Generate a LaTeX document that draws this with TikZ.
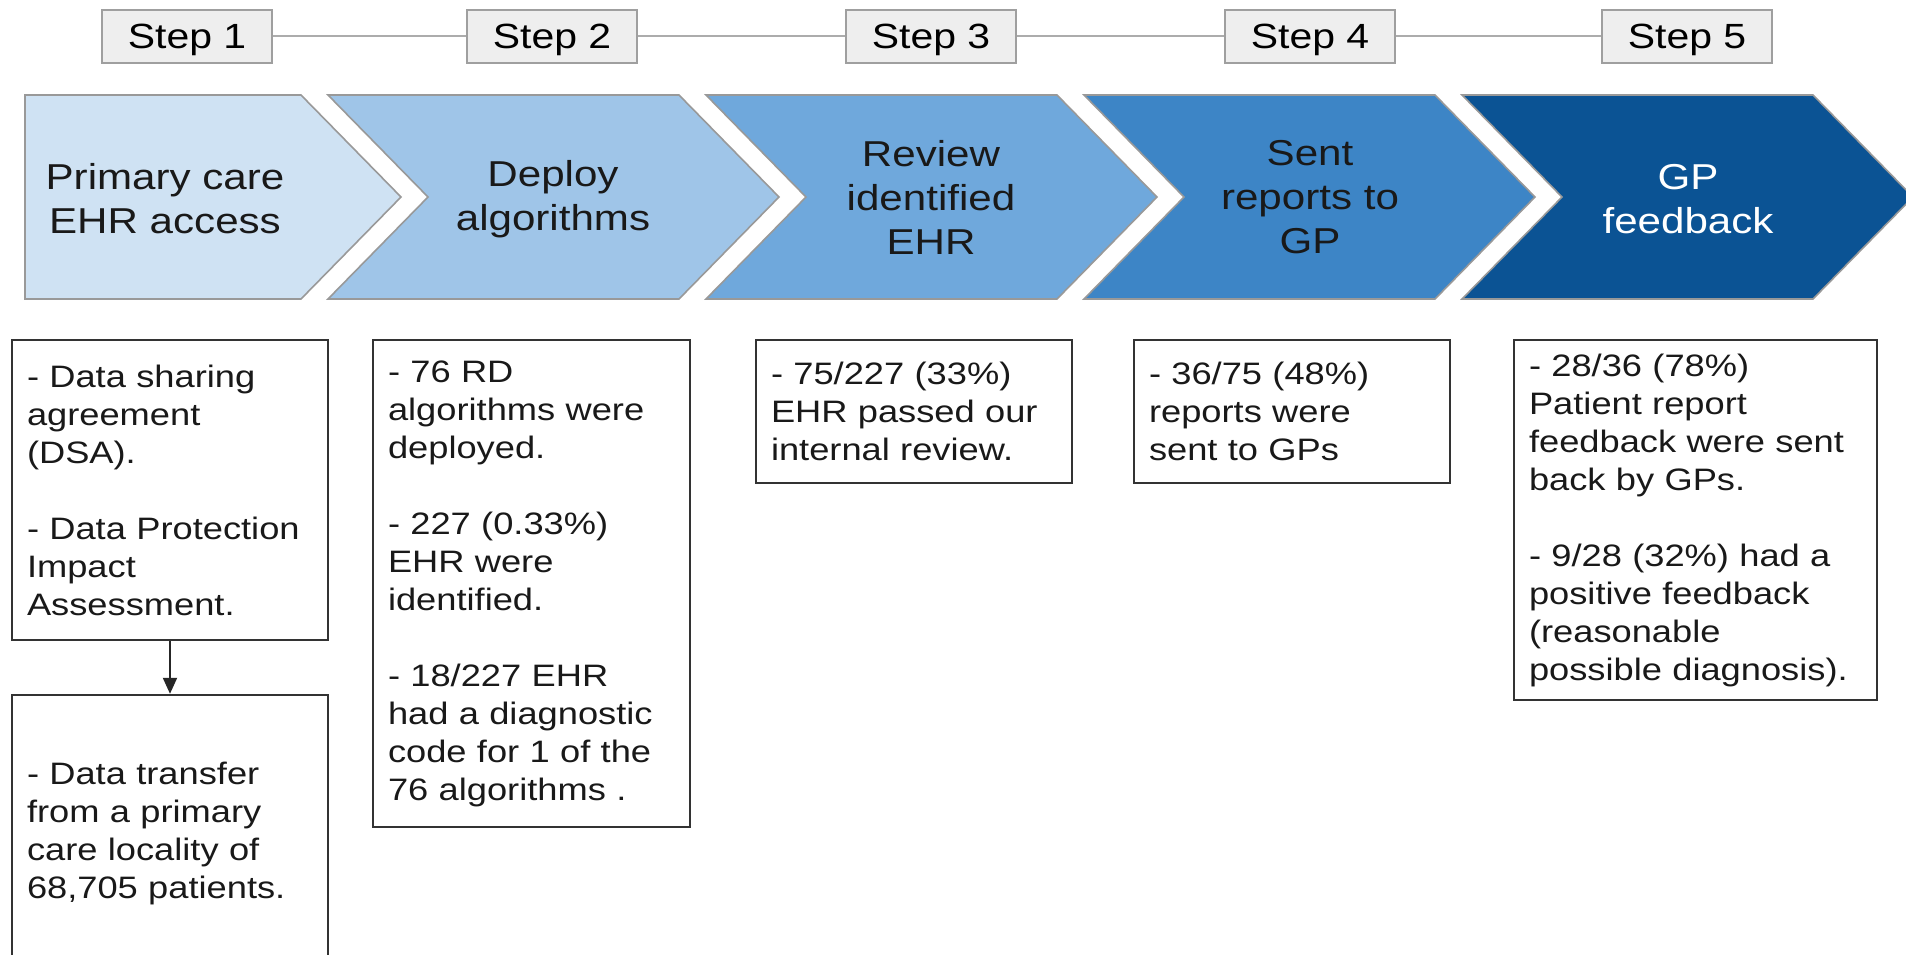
\documentclass[tikz,border=0pt]{standalone}
\usepackage{fontspec}
\setmainfont{Liberation Sans}[FakeStretch=1.17]
\usepackage{xcolor}
\usetikzlibrary{arrows.meta}

\definecolor{chevA}{HTML}{CFE2F3}
\definecolor{chevB}{HTML}{9FC5E8}
\definecolor{chevC}{HTML}{6FA8DC}
\definecolor{chevD}{HTML}{3D85C6}
\definecolor{chevE}{HTML}{0B5394}

\begin{document}
\begin{tikzpicture}[
  x=0.5pt, y=-0.5pt,
  steplabel/.style={draw=gray!75, fill=gray!13, line width=1pt, minimum width=85pt,
                    minimum height=26.5pt, inner sep=0pt, text depth=0pt,
                    font=\fontsize{17.5}{21}\selectfont},
  stepline/.style={draw=gray!65, line width=1pt},
  chev/.style={fill=#1, draw=gray!80, line width=0.8pt},
  chevtext/.style={align=center, text=black!90, font=\fontsize{18}{22}\selectfont},
  infobox/.style={draw=black!80, line width=1.2pt, fill=white, text width=#1,
                  inner xsep=7.5pt, inner ysep=0pt, align=left, text=black!90,
                  font=\fontsize{15.5}{19}\selectfont},
  flowarrow/.style={-{Triangle[width=7pt, length=8pt]}, line width=1pt, black!85},
]
\path[use as bounding box] (0,0) rectangle (1906,954);
\clip (0,0) rectangle (1906,954);

% step labels along the top
\foreach \n/\x in {1/187, 2/552, 3/931, 4/1310, 5/1687}
  \node[steplabel] (step\n) at (\x,36) {Step \n};
\foreach \a/\b in {1/2, 2/3, 3/4, 4/5}
  \draw[stepline] (step\a) -- (step\b);

% chevrons
\filldraw[chev=chevA] (25,95) -- (301,95) -- (401,197) -- (301,299) -- (25,299) -- cycle;
\foreach \i/\col in {1/chevB, 2/chevC, 3/chevD, 4/chevE} {
  \pgfmathsetmacro\L{328+378*(\i-1)}
  \pgfmathsetmacro\R{\L+351}
  \filldraw[chev=\col] (\L,95) -- (\R,95) -- (\R+100,197) -- (\R,299)
    -- (\L,299) -- (\L+100,197) -- cycle;
}

\node[chevtext] (access) at (165,199) {Primary care\\EHR access};
\node[chevtext] (algos) at (553,199) {Deploy\\algorithms};
\node[chevtext] (ehr) at (931,197) {Review\\identified\\EHR};
\node[chevtext] (sent) at (1310,197) {Sent\\reports to\\GP};
\node[chevtext, text=white] (gpfb) at (1688,199) {GP\\feedback};

% detail boxes
\node[infobox=143pt, minimum height=150pt] (dsa) at (170,490)
  {- Data sharing\\agreement\\(DSA).\\[19pt]- Data Protection\\Impact\\Assessment.};
\node[infobox=143pt, minimum height=138pt] (transfer) at (170,833)
  {- Data transfer\\from a primary\\care locality of\\68,705 patients.};
\node[infobox=143.5pt, minimum height=243.5pt] (deploy) at (531.5,583.5)
  {- 76 RD\\algorithms were\\deployed.\\[19pt]- 227 (0.33\%)\\EHR were\\identified.\\[19pt]%
   - 18/227 EHR\\had a diagnostic\\code for 1 of the\\76 algorithms .};
\node[infobox=143pt, minimum height=71.5pt] (review) at (914,411.5)
  {- 75/227 (33\%)\\EHR passed our\\internal review.};
\node[infobox=143pt, minimum height=71.5pt] (reports) at (1292,411.5)
  {- 36/75 (48\%)\\reports were\\sent to GPs};
\node[infobox=166.5pt, minimum height=180pt] (feedback) at (1695.5,520)
  {- 28/36 (78\%)\\Patient report\\feedback were sent\\back by GPs.\\[19pt]%
   - 9/28 (32\%) had a\\positive feedback\\(reasonable\\possible diagnosis).};

\draw[flowarrow] (dsa) -- (transfer);
\end{tikzpicture}
\end{document}
